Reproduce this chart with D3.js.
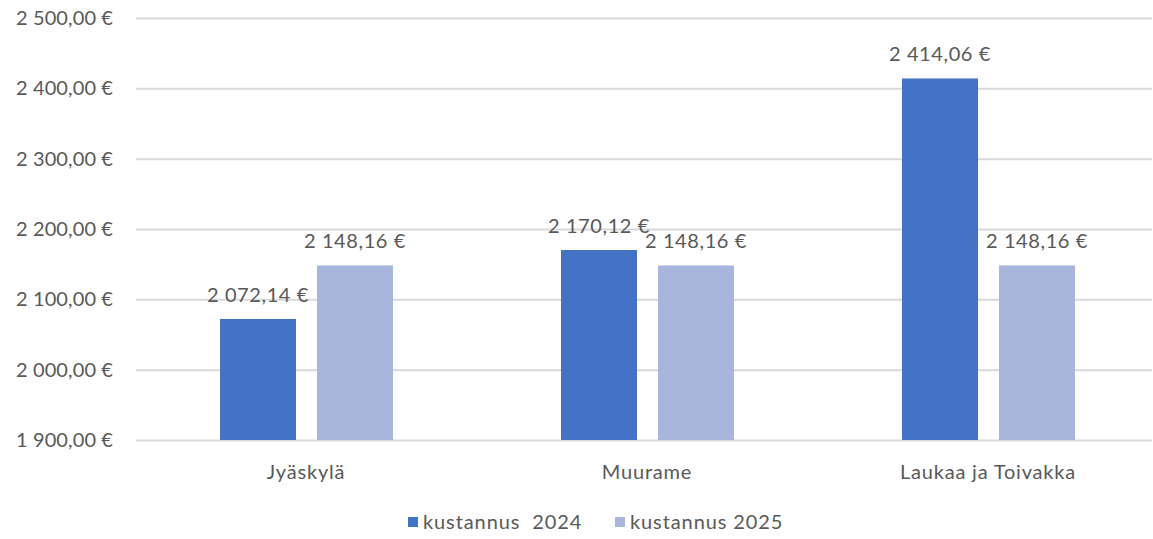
<!DOCTYPE html>
<html><head><meta charset="utf-8">
<script src="https://cdn.jsdelivr.net/npm/d3@7"></script>
<style>body{margin:0;background:#fff}svg{display:block}text{font-family:Lato,"Open Sans",sans-serif;fill:#595959}</style>
</head><body><svg id="c" width="1153" height="539"></svg>
<script>
const categories = ["Jyäskylä", "Muurame", "Laukaa ja Toivakka"];
const seriesNames = ["kustannus  2024", "kustannus 2025"];
const values2024 = [2072.14, 2170.12, 2414.06];
const values2025 = [2148.16, 2148.16, 2148.16];
const yTicks = [1900, 2000, 2100, 2200, 2300, 2400, 2500];
const colors = ["#4472C4", "#A9B6DB"];

const svg = d3.select("#c");
const fs = 20;
const y = d3.scaleLinear().domain([1900, 2500]).range([440, 18]);
const x0 = d3.scaleBand().domain(categories).range([135.5, 1158.5]).padding(0);
const x1 = d3.scaleBand().domain(seriesNames).range([84.5, 257.5]).paddingInner(0.2165).paddingOuter(0);

const fmt = v => {
  const s = v.toFixed(2).split(".");
  const int = s[0].replace(/\B(?=(\d{3})+(?!\d))/g, " ");
  return int + "," + s[1] + " €";
};

// gridlines
const yAxis = d3.axisLeft(y).tickValues(yTicks).tickSize(-(1152 - 136)).tickFormat(fmt);
const ga = svg.append("g").attr("transform", "translate(136,0)").call(yAxis);
ga.select(".domain").remove();
ga.selectAll(".tick line").attr("stroke", "#d9d9d9").attr("stroke-width", 2);
ga.selectAll(".tick text").attr("x", -23).attr("font-size", fs).attr("fill", "#595959")
  .attr("font-family", "Lato").attr("letter-spacing", "0.1px");

const data = categories.map((c, i) => ({cat: c, vals: [values2024[i], values2025[i]]}));
const groups = svg.append("g").selectAll("g").data(data).join("g")
  .attr("transform", d => `translate(${x0(d.cat)},0)`);
groups.selectAll("rect").data(d => d.vals.map((v, j) => ({s: seriesNames[j], v, j})))
  .join("rect")
  .attr("x", d => x1(d.s)).attr("width", x1.bandwidth())
  .attr("y", d => y(d.v)).attr("height", d => y(1900) - y(d.v))
  .attr("fill", d => colors[d.j]);
groups.selectAll("text.lbl").data(d => d.vals.map((v, j) => ({s: seriesNames[j], v, j})))
  .join("text").attr("class", "lbl")
  .attr("x", d => x1(d.s) + x1.bandwidth() / 2)
  .attr("y", d => y(d.v) - 17)
  .attr("text-anchor", "middle").attr("font-size", fs).attr("letter-spacing", "0.6px")
  .attr("fill", "#404040")
  .text(d => fmt(d.v));

// category labels
const xAxis = d3.axisBottom(x0).tickSize(0).tickPadding(0);
const gx = svg.append("g").attr("transform", "translate(0,440)").call(xAxis);
gx.select(".domain").remove();
gx.selectAll(".tick text").attr("y", 32).attr("dy", "0.35em").attr("font-size", fs)
  .attr("letter-spacing", "0.8px").attr("fill", "#595959").attr("font-family", "Lato");

// legend
const legX = [408, 615];
const lg = svg.append("g").selectAll("g").data(seriesNames).join("g")
  .attr("transform", (d, i) => `translate(${legX[i]},522)`);
lg.append("rect").attr("x", 0).attr("y", -5).attr("width", 10).attr("height", 10).attr("fill", (d, i) => colors[i]);
lg.append("text").attr("x", 15).attr("dy", "0.35em").attr("font-size", fs).attr("letter-spacing", "0.9px")
  .attr("fill", "#595959")
  .attr("xml:space", "preserve").style("white-space", "pre").text(d => d);
</script></body></html>
